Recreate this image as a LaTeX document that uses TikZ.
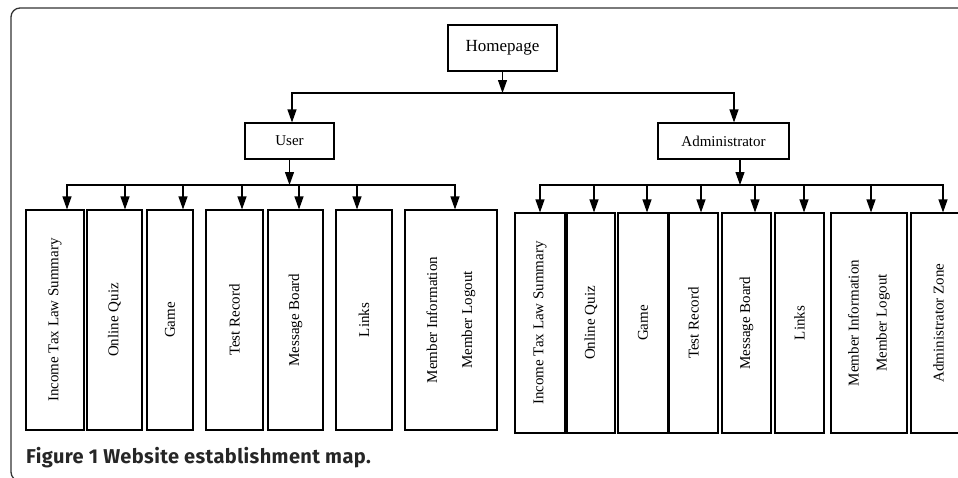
\documentclass[tikz,border=0pt]{standalone}
\usepackage{fontspec}
\setmainfont{Liberation Serif}
\newfontfamily\capfont[LetterSpace=2]{Fira Sans}
\usetikzlibrary{arrows.meta}

\begin{document}
\begin{tikzpicture}[x=1pt,y=-1pt,
  box/.style={draw,line width=1.1pt,inner sep=0pt,font=\fontsize{15}{18}\selectfont},
  leaf/.style={box,minimum height=220pt},
  arr/.style={line width=1.1pt,-{Triangle[length=13pt,width=9pt]}}]
\useasboundingbox (0,0) rectangle (958,477);
\clip (0,0) rectangle (958,477);
% frame
\draw[line width=1.3pt,black!80,rounded corners=9pt] (990,8) -- (11,8) -- (11,481) -- (990,481);
% top levels
\node[box,minimum width=109pt,minimum height=46pt,font=\fontsize{17}{20}\selectfont] (hp) at (502.5,48) {Homepage};
\node[box,minimum width=89pt,minimum height=36pt] (usr) at (289.5,141) {User};
\node[box,minimum width=131pt,minimum height=36pt] (adm) at (723.5,141) {Administrator};
% user pages
\node[leaf,minimum width=58pt] (u1) at (55,320) {\rotatebox{90}{Income Tax Law Summary}};
\node[leaf,minimum width=55pt] (u2) at (114.5,320) {\rotatebox{90}{Online Quiz}};
\node[leaf,minimum width=46pt] (u3) at (170,320) {\rotatebox{90}{Game}};
\node[leaf,minimum width=57pt] (u4) at (234.5,320) {\rotatebox{90}{Test Record}};
\node[leaf,minimum width=55pt] (u5) at (295.5,320) {\rotatebox{90}{Message Board}};
\node[leaf,minimum width=56pt] (u6) at (364,320) {\rotatebox{90}{Links}};
\node[leaf,minimum width=92pt] (u7) at (451,320) {\rotatebox{90}{\begin{tabular}{@{}c@{}}Member Information\\[17pt]Member Logout\end{tabular}}};
% administrator pages
\node[leaf,minimum width=50pt] (a1) at (540,323) {\rotatebox{90}{Income Tax Law Summary}};
\node[leaf,minimum width=48pt] (a2) at (591,323) {\rotatebox{90}{Online Quiz}};
\node[leaf,minimum width=50pt] (a3) at (643,323) {\rotatebox{90}{Game}};
\node[leaf,minimum width=49pt] (a4) at (693.5,323) {\rotatebox{90}{Test Record}};
\node[leaf,minimum width=49pt] (a5) at (746.5,323) {\rotatebox{90}{Message Board}};
\node[leaf,minimum width=49pt] (a6) at (799.5,323) {\rotatebox{90}{Links}};
\node[leaf,minimum width=76pt] (a7) at (869,323) {\rotatebox{90}{\begin{tabular}{@{}c@{}}Member Information\\[10pt]Member Logout\end{tabular}}};
\node[leaf,minimum width=55pt] (a8) at (938.5,323) {\rotatebox{90}{Administrator Zone}};
% caption
\node[anchor=base west,inner sep=0pt,text=black!85,font=\capfont\bfseries\fontsize{20}{24}\selectfont] (cap) at (26,463) {Figure 1 Website establishment map.};
% connectors
\coordinate (hb) at (502.5,93);
\coordinate (ub) at (289.5,185);
\coordinate (ab) at (740,185);
\draw[arr] (hp) -- (hb);
\draw[arr] (hb) -| ([xshift=2.5pt]usr.north);
\draw[arr] (hb) -| ([xshift=10.5pt]adm.north);
\draw[arr] (usr) -- (ub);
\draw[arr] ([xshift=16.5pt]adm.south) -- (ab);
\foreach \n/\d in {u1/12,u2/10.5,u3/13,u4/7.5,u5/3.5,u6/-7,u7/4}
  \draw[arr] (ub) -| ([xshift=\d pt]\n.north);
\foreach \n/\d in {a1/0,a2/3,a3/4,a4/7.5,a5/8.5,a6/4.5,a7/2,a8/4.5}
  \draw[arr] (ab) -| ([xshift=\d pt]\n.north);
\end{tikzpicture}
\end{document}
